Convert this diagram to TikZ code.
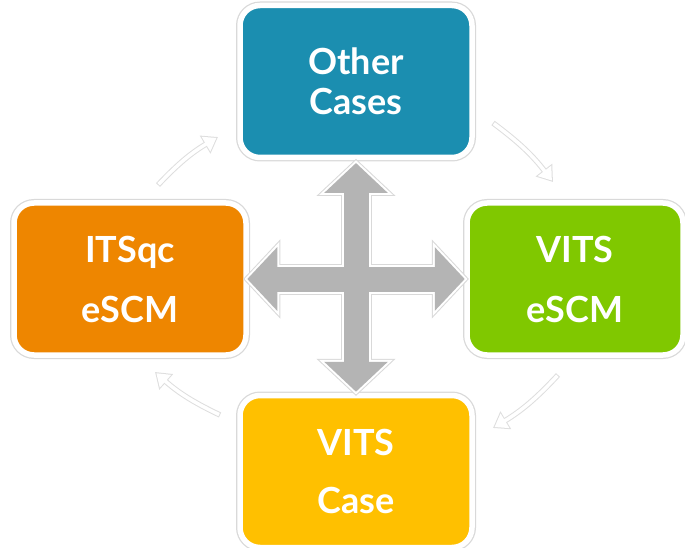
\documentclass[tikz,border=0pt]{standalone}
\usepackage{fontspec}
\setmainfont{Lato}
\usetikzlibrary{arrows.meta, calc}
\definecolor{caseblue}{HTML}{1B8EB0}
\definecolor{caseorange}{HTML}{EE8600}
\definecolor{casegreen}{HTML}{80C800}
\definecolor{caseyellow}{HTML}{FFC000}
\definecolor{crossgray}{HTML}{B4B4B4}
\tikzset{%
	box/.style={rectangle, rounded corners=20pt, minimum width=232pt, minimum height=152pt,%
		inner sep=0pt, align=center, text=white, font=\fontsize{36}{40}\selectfont\bfseries,%
		draw=white, line width=5.5pt, preaction={draw=black!15, line width=8pt}},
	flow/.style={line width=5.5pt, draw=black!13, -{Triangle[width=20pt, length=15pt]}},
	flowin/.style={line width=3.5pt, draw=white, -{Triangle[width=16.3pt, length=12.2pt]},%
		shorten >=1.8pt, shorten <=1pt}
}

\begin{document}
\begin{tikzpicture}[x=1pt, y=1pt]
	\useasboundingbox (0,0) rectangle (685,547);
	\node[box, fill=caseblue] (other) at (356,465.5) {Other\\Cases};
	\node[box, fill=caseorange] (itsqc) at (130,268) {ITSqc\\[20pt]eSCM};
	\node[box, fill=casegreen, minimum width=216pt] (vitsescm) at (575,268) {VITS\\[20pt]eSCM};
	\node[box, fill=caseyellow] (vitscase) at (356,75.5) {VITS\\[18pt]Case};

	% cross in the middle
	\foreach \lw/\tw/\tl/\ex/\col in {31/77/37.2/4.2/black!15, 29/72/34.8/2.8/white, 25/62/30/0/crossgray}{
		\draw[line width=\lw pt, draw=\col, shorten <=1pt-\ex pt, shorten >=2.75pt-\ex pt,%
			{Triangle[width=\tw pt, length=\tl pt]}-{Triangle[width=\tw pt, length=\tl pt]}]
			(vitscase.north) -- (other.south);
		\draw[line width=\lw pt, draw=\col, shorten <=-1.5pt-\ex pt, shorten >=-0.5pt-\ex pt,%
			{Triangle[width=\tw pt, length=\tl pt]}-{Triangle[width=\tw pt, length=\tl pt]}]
			(itsqc.east) -- (vitsescm.west);
	}

	% faint arrows round the boxes
	\coordinate (f1s) at (158,362); \coordinate (f1e) at (218,410);
	\coordinate (f2s) at (493,424); \coordinate (f2e) at (553,365);
	\coordinate (f3s) at (558,172); \coordinate (f3e) at (493,119);
	\coordinate (f4s) at (220,132); \coordinate (f4e) at (155,175);
	\foreach \s/\e in {f1s/f1e, f2s/f2e, f3s/f3e, f4s/f4e}{
		\draw[flow] (\s) to[bend left=8] (\e);
		\draw[flowin] (\s) to[bend left=8] (\e);
	}
\end{tikzpicture}
\end{document}
